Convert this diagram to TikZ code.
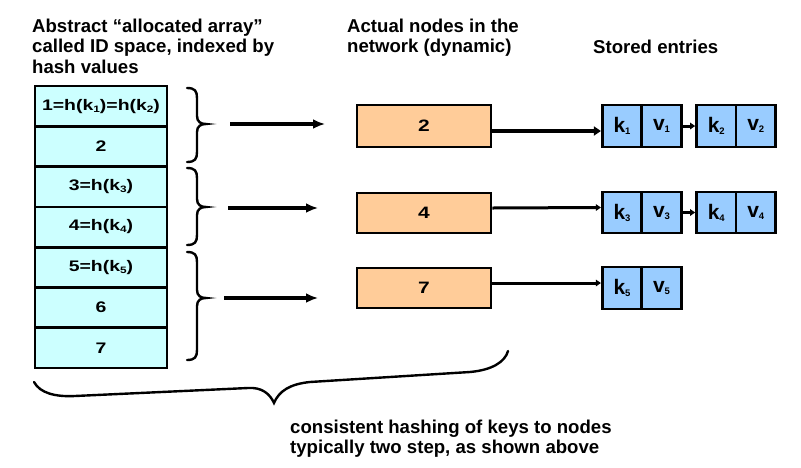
\documentclass[tikz,border=0pt]{standalone}
\usepackage{fontspec}
\setmainfont{Liberation Sans}
\usepackage{graphicx}
\usetikzlibrary{arrows.meta}
\definecolor{cellc}{HTML}{CCFFFF}
\definecolor{nodec}{HTML}{FFCC99}
\definecolor{kvc}{HTML}{99CCFF}
\newcommand\csub[1]{\raisebox{-2pt}{\fontsize{9.3}{9}\selectfont #1}}
\newcommand\ksub[1]{\raisebox{-2pt}{\fontsize{9.5}{9}\selectfont #1}}
\newcommand\ctext[1]{\scalebox{1.27}[1]{#1}}
\newcommand\myrbrace[4]{%
  \draw[brc] (#1,#2) .. controls (#1+8,#2) and (#1+10,#2+3) .. (#1+10,#2+10)
    -- (#1+10,#3-8) .. controls (#1+10,#3-2) and (#1+14,#3) .. (#1+19,#3)
    .. controls (#1+14,#3) and (#1+10,#3+2) .. (#1+10,#3+8)
    -- (#1+10,#4-10) .. controls (#1+10,#4-3) and (#1+8,#4) .. (#1,#4);}
\begin{document}
\begin{tikzpicture}[x=1pt,y=-1pt,
 hdr/.style={font=\fontsize{18.6}{20.5}\selectfont\bfseries, inner sep=0pt, align=left},
 cell/.style={draw, line width=2.7pt, fill=cellc, minimum width=132pt, minimum height=40.3pt, inner sep=0pt, font=\fontsize{15.3}{15}\selectfont\bfseries},
 netnode/.style={draw, line width=2.8pt, fill=nodec, minimum width=134pt, inner sep=0pt, font=\fontsize{16.5}{16}\selectfont\bfseries},
 kv/.style={draw, line width=2.7pt, fill=kvc, minimum width=39.5pt, inner sep=0pt, font=\fontsize{21}{21}\selectfont\bfseries},
 brc/.style={line width=2.4pt, line cap=round},
 bigarrow/.style={line width=4pt, -{Latex[length=12pt,width=10pt]}},
 link/.style={line width=3.3pt, -{Triangle[length=7pt,width=9pt]}},
 smalllink/.style={line width=3pt, -{Triangle[length=5pt,width=6.5pt]}}]
\useasboundingbox (0,0) rectangle (801,467);
% headers
\node[hdr, anchor=north west] (h1) at (32,18.4) {Abstract “allocated array”\\called ID space, indexed by\\hash values};
\node[hdr, anchor=north west] (h2) at (347,18.6) {Actual nodes in the\\network (dynamic)};
\node[hdr, anchor=base west] (h3) at (593,53) {Stored entries};
\node[hdr, anchor=north west] (h4) at (290,419.6) {consistent hashing of keys to nodes\\typically two step, as shown above};
% ID space cells
\node[cell] (c1) at (101,106.1) {\ctext{1=h(k\csub{1})=h(k\csub{2})}};
\node[cell] (c2) at (101,146.4) {\ctext{2}};
\node[cell] (c3) at (101,186.7) {\ctext{3=h(k\csub{3})}};
\node[cell] (c4) at (101,227.0) {\ctext{4=h(k\csub{4})}};
\node[cell] (c5) at (101,267.3) {\ctext{5=h(k\csub{5})}};
\node[cell] (c6) at (101,307.6) {\ctext{6}};
\node[cell] (c7) at (101,347.9) {\ctext{7}};
% braces
\myrbrace{187}{88}{124}{162}
\myrbrace{187}{168}{207}{245}
\myrbrace{187}{252}{298}{360}
% arrows from braces
\coordinate (a1s) at (230,124); \coordinate (a1e) at (325,124);
\coordinate (a2s) at (228,208); \coordinate (a2e) at (318,208);
\coordinate (a3s) at (224,298); \coordinate (a3e) at (318,298);
\draw[bigarrow] (a1s) -- (a1e);
\draw[bigarrow] (a2s) -- (a2e);
\draw[bigarrow] (a3s) -- (a3e);
% network nodes
\node[netnode, minimum height=42pt] (o2) at (424,126) {\ctext{2}};
\node[netnode, minimum height=40pt] (o4) at (424,213) {\ctext{4}};
\node[netnode, minimum height=40pt] (o7) at (424,288) {\ctext{7}};
% stored entries
\node[kv, minimum height=42pt] (k1) at (622,126) {k\ksub{1}};
\node[kv, minimum height=42pt] (v1) at (661.5,126) {v\ksub{1}};
\node[kv, minimum height=42pt] (k2) at (716.25,126) {k\ksub{2}};
\node[kv, minimum height=42pt] (v2) at (755.75,126) {v\ksub{2}};
\node[kv, minimum height=41pt] (k3) at (622,212.5) {k\ksub{3}};
\node[kv, minimum height=41pt] (v3) at (661.5,212.5) {v\ksub{3}};
\node[kv, minimum height=41pt] (k4) at (716.25,212.5) {k\ksub{4}};
\node[kv, minimum height=41pt] (v4) at (755.75,212.5) {v\ksub{4}};
\node[kv, minimum height=42pt] (k5) at (622,288) {k\ksub{5}};
\node[kv, minimum height=42pt] (v5) at (661.5,288) {v\ksub{5}};
% links
\draw[link] ([yshift=-5pt]o2.east) -- ([yshift=-5pt]k1.west);
\draw[smalllink] ([yshift=5pt]o4.east) -- ([yshift=5pt]k3.west);
\draw[smalllink] ([yshift=5pt]o7.east) -- ([yshift=5pt]k5.west);
\draw[smalllink] (v1.east) -- (k2.west);
\draw[smalllink] (v3.east) -- (k4.west);
% bottom brace
\draw[brc] (34,382) .. controls (40,393) and (55,397) .. (75,396) -- (248,388)
  .. controls (262,387) and (270,394) .. (274,403)
  .. controls (279,391) and (290,384) .. (310,382) -- (470,372)
  .. controls (492,370) and (505,362) .. (508,351);
\end{tikzpicture}
\end{document}
